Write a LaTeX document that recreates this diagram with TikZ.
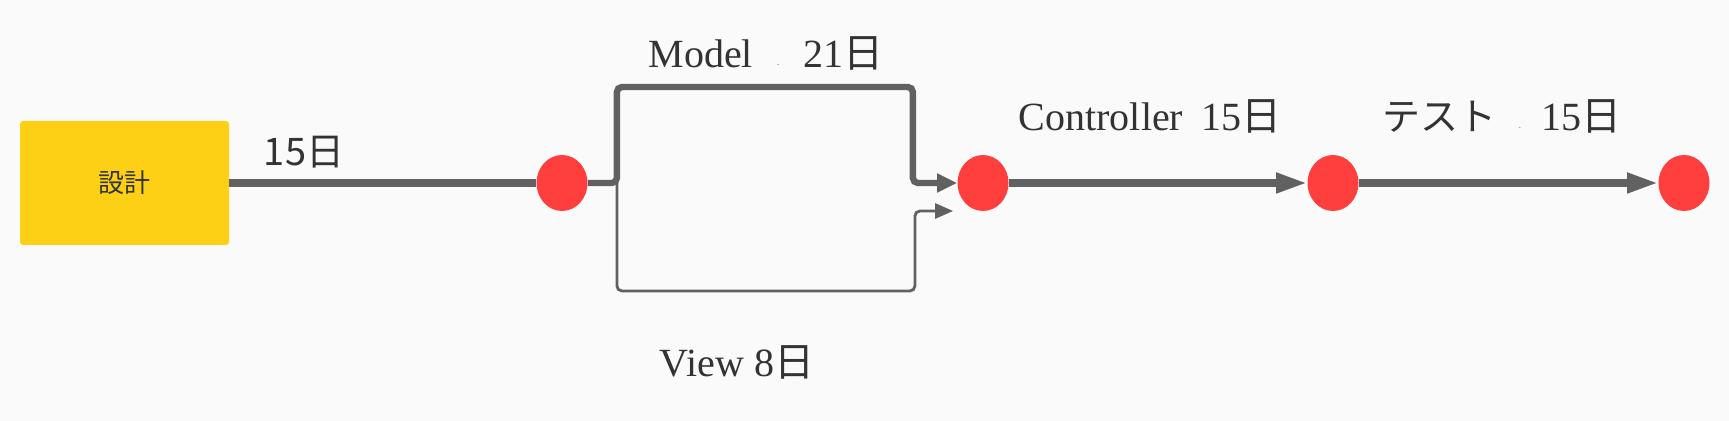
\documentclass[tikz,border=0pt]{standalone}
\usepackage{fontspec}
\setmainfont{Liberation Serif}
\newfontfamily\cjk{Noto Sans CJK JP}
\usepackage{tikz}
\usetikzlibrary{arrows.meta,positioning,shapes.geometric}

\definecolor{bgcol}{HTML}{FAFAFA}
\definecolor{boxcol}{HTML}{FDD015}
\definecolor{dotcol}{HTML}{FF3E3E}
\definecolor{linecol}{HTML}{616161}
\definecolor{txtcol}{HTML}{333333}

\begin{document}
\begin{tikzpicture}[
    x=0.5pt, y=-0.5pt,
    every node/.style={text=txtcol},
    task/.style={draw=none, fill=boxcol, rounded corners=1.5pt, minimum width=104.5pt, minimum height=62pt, inner sep=0pt, font=\cjk\fontsize{13pt}{15pt}\selectfont},
    event/.style={ellipse, fill=dotcol, draw=none, minimum width=25.5pt, minimum height=28pt, inner sep=0pt},
    label/.style={inner sep=0pt, font=\fontsize{20pt}{24pt}\selectfont},
    mainline/.style={draw=linecol, line width=3.6pt},
    mainarrow/.style={draw=linecol, line width=3.6pt, -{Triangle[length=15.5pt,width=9.5pt]}},
    modelpath/.style={draw=linecol, line width=3.2pt, rounded corners=2.5pt, -{Triangle[length=10pt,width=9pt]}},
    viewpath/.style={draw=linecol, line width=1.4pt, rounded corners=2.5pt, -{Triangle[length=9pt,width=7.5pt]}}
]
\fill[bgcol] (0,0) rectangle (1729,421);

\node[task] (design) at (124.5,183) {設計};
\node[event] (n1) at (562,183) {};
\node[event] (n2) at (983,183) {};
\node[event] (n3) at (1333,183) {};
\node[event] (n4) at (1684,183) {};

\node[label, font=\cjk\fontsize{19pt}{22pt}\selectfont] (dlabel) at (304,152) {15日};
\node[label] (mlabel) at (766,53) {Model\hspace{0.6em}{\fontsize{4pt}{4pt}\selectfont\textperiodcentered}\hspace{0.6em}21{\cjk 日}};
\node[label] (vlabel) at (737,362) {View 8{\cjk 日}};
\node[label] (clabel) at (1150,116) {Controller\hspace{0.45em}15{\cjk 日}};
\node[label] (tlabel) at (1502,116) {{\cjk\fontsize{19pt}{22pt}\selectfont テスト}\hspace{0.55em}{\fontsize{4pt}{4pt}\selectfont\textperiodcentered}\hspace{0.5em}15{\cjk 日}};

\draw[mainline] (design.east) -- (n1.west);
\draw[modelpath] (n1.east) -- ++(29,0) coordinate (split) |- ++(296,-96) |- (n2.west);
\draw[viewpath] (split) |- ++(298,108) |- ([xshift=-2pt,yshift=-14pt]n2.west);
\draw[mainarrow] (n2) -- (n3);
\draw[mainarrow] (n3) -- (n4);
\end{tikzpicture}
\end{document}
